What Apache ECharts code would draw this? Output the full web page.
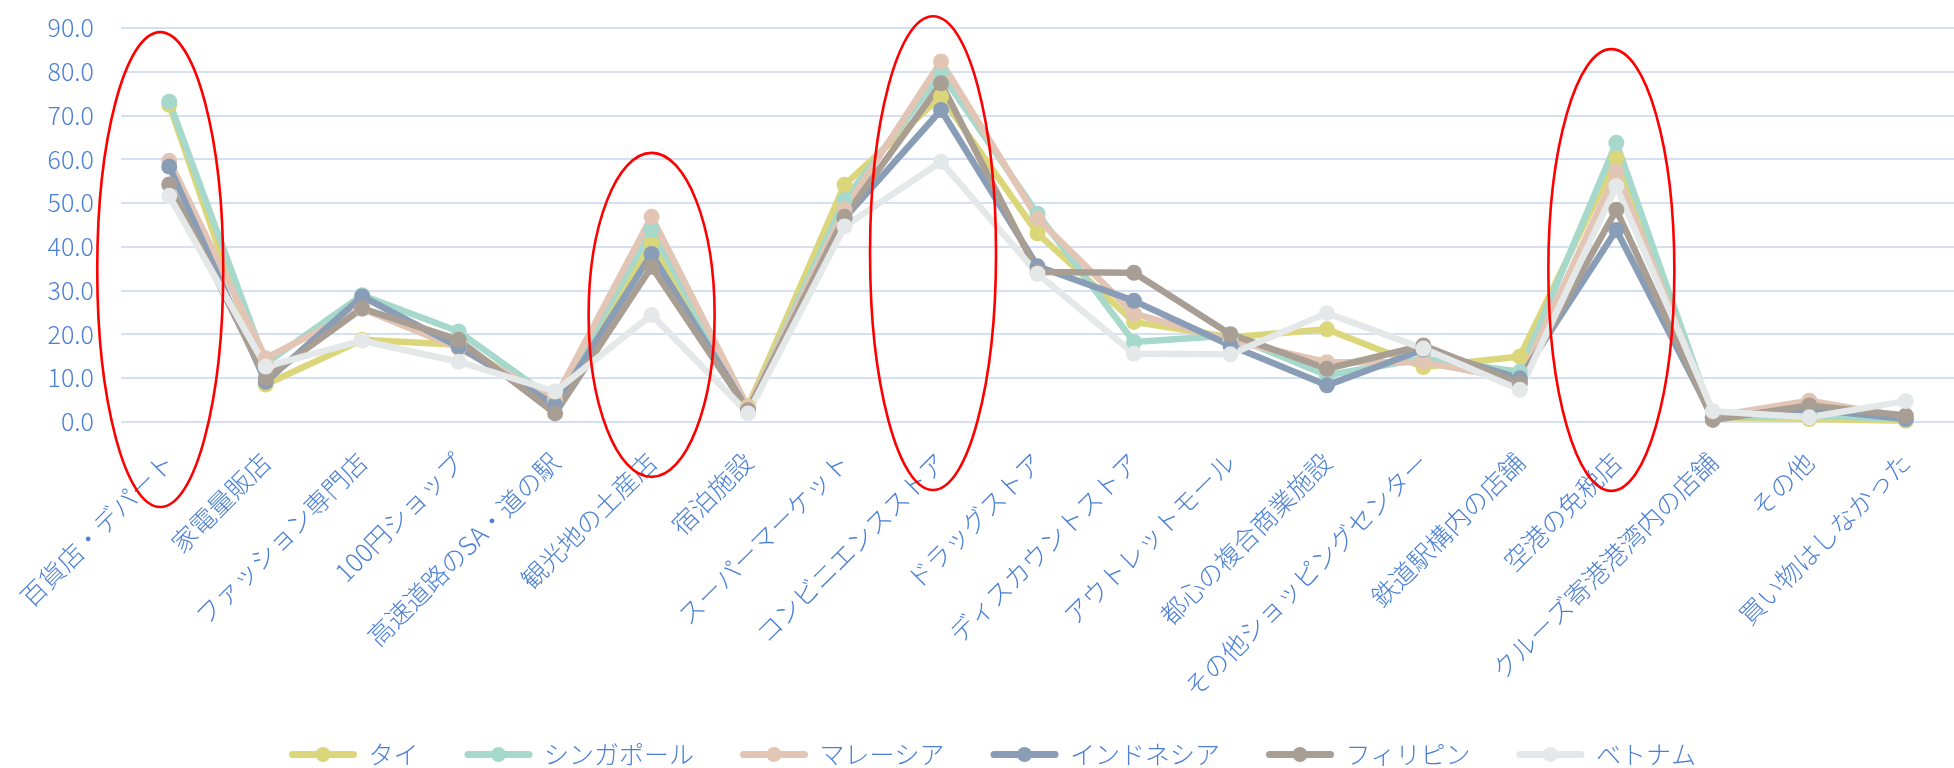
<!DOCTYPE html>
<html>
<head>
<meta charset="utf-8">
<script src="https://cdn.jsdelivr.net/npm/echarts@6/dist/echarts.min.js"></script>
<style>
  html, body { margin: 0; padding: 0; background: #ffffff; }
  #chart { width: 1954px; height: 768px; }
</style>
</head>
<body>
<div id="chart"></div>
<script>
// Shopping places visited, by country (%)
const categories = [
  '百貨店・デパート', '家電量販店', 'ファッション専門店', '100円ショップ',
  '高速道路のSA・道の駅', '観光地の土産店', '宿泊施設', 'スーパーマーケット',
  'コンビニエンスストア', 'ドラッグストア', 'ディスカウントストア', 'アウトレットモール',
  '都心の複合商業施設', 'その他ショッピングセンター', '鉄道駅構内の店舗', '空港の免税店',
  'クルーズ寄港港湾内の店舗', 'その他', '買い物はしなかった'
];

const seriesNames = ['タイ', 'シンガポール', 'マレーシア', 'インドネシア', 'フィリピン', 'ベトナム'];

const thailand    = [72.4, 8.5, 18.7, 17.6, 4.6, 40.7, 3.5, 54.1, 74.3, 43.0, 22.8, 19.3, 21.1, 12.5, 14.9, 60.2, 1.0, 0.6, 0.2];
const singapore   = [73.1, 13.3, 28.9, 20.6, 4.8, 43.8, 2.8, 50.6, 79.6, 47.5, 18.2, 19.7, 10.6, 14.4, 11.4, 63.7, 1.0, 1.4, 0.6];
const malaysia    = [59.6, 14.5, 25.8, 16.8, 5.3, 46.8, 3.2, 48.4, 82.3, 46.4, 24.7, 18.6, 13.6, 13.6, 9.5, 57.1, 1.2, 4.8, 1.0];
const indonesia   = [58.3, 9.1, 28.6, 17.1, 3.8, 38.3, 2.5, 46.5, 71.2, 35.5, 27.6, 17.4, 8.3, 16.5, 9.9, 43.8, 1.0, 2.9, 0.6];
const philippines = [54.2, 9.9, 25.9, 18.7, 1.9, 35.4, 2.6, 46.8, 77.3, 34.2, 34.0, 20.0, 12.1, 17.4, 8.8, 48.4, 0.4, 3.7, 1.4];
const vietnam     = [51.6, 12.6, 18.5, 13.7, 6.9, 24.4, 1.9, 44.6, 59.4, 33.8, 15.5, 15.4, 24.8, 16.7, 7.3, 53.8, 2.4, 1.0, 4.7];

const seriesValues = [thailand, singapore, malaysia, indonesia, philippines, vietnam];
const seriesColors = ['#dcd67a', '#a6d9cb', '#e2c5b4', '#8a9db6', '#a89e93', '#e5e8e8'];

// y-axis range
const yMin = 0, yMax = 90, yStep = 10;

// Highlighted categories, outlined with red ellipses (vertical extent in axis units)
const highlights = [
  { category: '百貨店・デパート',   top: 89.0, bottom: -19.5, dx: -9 },
  { category: '観光地の土産店',     top: 61.4, bottom: -12.6, dx: 0 },
  { category: 'コンビニエンスストア', top: 92.6, bottom: -15.6, dx: -8 },
  { category: '空港の免税店',       top: 85.1, bottom: -15.8, dx: -5 }
];

const FONT = '"Noto Sans CJK JP", "Noto Sans", sans-serif';
const TEXT_COLOR = '#4a7fd5';

const chart = echarts.init(document.getElementById('chart'), null, { renderer: 'canvas' });

const option = {
  backgroundColor: '#ffffff',
  animation: false,
  textStyle: { fontFamily: FONT },
  grid: { left: 121, top: 27.7, width: 1841, height: 394, containLabel: false },
  legend: {
    left: 284,
    top: 737,
    itemWidth: 61,
    itemHeight: 19,
    itemGap: 46,
    lineStyle: { width: 7, cap: 'round' },
    textStyle: { color: TEXT_COLOR, fontSize: 25, fontFamily: FONT, fontWeight: 300, padding: [0, 0, 0, 10] },
    data: seriesNames
  },
  xAxis: {
    type: 'category',
    data: categories,
    boundaryGap: true,
    axisLine: { show: false },
    axisTick: { show: false },
    axisLabel: {
      interval: 0,
      rotate: 45,
      margin: 36,
      color: TEXT_COLOR,
      fontSize: 25.5,
      fontFamily: FONT,
      fontWeight: 300
    }
  },
  yAxis: {
    type: 'value',
    min: yMin,
    max: yMax,
    interval: yStep,
    axisLine: { show: false },
    axisTick: { show: false },
    splitLine: { lineStyle: { color: '#d5e1f3', width: 2 } },
    axisLabel: {
      margin: 27,
      color: TEXT_COLOR,
      fontSize: 25,
      fontFamily: FONT,
      fontWeight: 300,
      formatter: v => v.toFixed(1)
    }
  },
  series: seriesNames.map((name, i) => ({
    name,
    type: 'line',
    data: seriesValues[i],
    symbol: 'circle',
    symbolSize: 16,
    showSymbol: true,
    color: seriesColors[i],
    lineStyle: { width: 6.5, color: seriesColors[i], cap: 'round', join: 'round' },
    itemStyle: { color: seriesColors[i] },
    emphasis: { disabled: true }
  }))
};

chart.setOption(option);

// Red ellipses around highlighted categories, positioned through the axes
const ellipses = highlights.map(h => {
  const pTop = chart.convertToPixel({ gridIndex: 0 }, [h.category, h.top]);
  const pBot = chart.convertToPixel({ gridIndex: 0 }, [h.category, h.bottom]);
  const cx = pTop[0] + h.dx;
  const cy = (pTop[1] + pBot[1]) / 2;
  const ry = Math.abs(pBot[1] - pTop[1]) / 2;
  return {
    type: 'ellipse',
    z: 100,
    silent: true,
    shape: { cx, cy, rx: 63, ry },
    style: { fill: 'none', stroke: '#ff0000', lineWidth: 2.6 }
  };
});

chart.setOption({ graphic: ellipses });
</script>
</body>
</html>
